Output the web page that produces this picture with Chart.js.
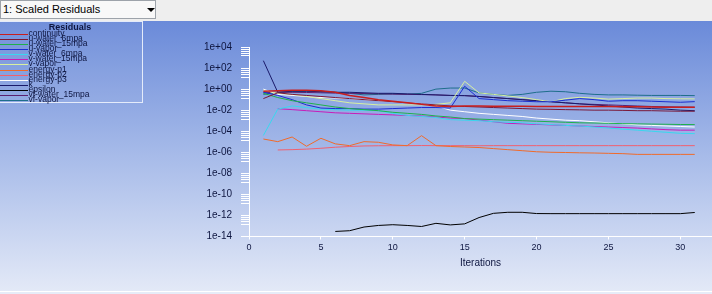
<!DOCTYPE html>
<html>
<head>
<meta charset="utf-8">
<script src="https://cdn.jsdelivr.net/npm/chart.js@4.4.0/dist/chart.umd.min.js"></script>
<style>
  html, body { margin: 0; padding: 0; }
  body { width: 712px; height: 294px; position: relative; overflow: hidden; background: #eeeeee; }
  #bg { position: absolute; left: 0; top: 21px; width: 712px; height: 270px;
        background: linear-gradient(to bottom, #6a8ad9 0%, #a7bbe9 50%, #e3e9f7 100%); }
  #foot { position: absolute; left: 0; top: 291px; width: 712px; height: 3px;
          background: #e6ecf8; border-top: 1px solid #ffffff; box-sizing: border-box; }
  #plot { position: absolute; left: 0; top: 0; }
  #combo { position: absolute; left: 0; top: 0; width: 156px; height: 19px; box-sizing: border-box;
           border: 1px solid #9da3aa; background: #f8f8f8; z-index: 2;
           font: 11px "Liberation Sans", Arial, sans-serif; color: #000; line-height: 17px; padding-left: 2px; }
  #combo i { position: absolute; left: 146px; top: 7px; width: 0; height: 0;
             border-left: 4px solid transparent; border-right: 4px solid transparent; border-top: 4px solid #000; }
</style>
</head>
<body>
<div id="bg"></div>
<div id="foot"></div>
<canvas id="plot" width="712" height="294"></canvas>
<div id="combo"><span>1: Scaled Residuals</span><i></i></div>
<script>
// residual values, stored as log10 exponents
const iterations = [1, 2, 3, 4, 5, 6, 7, 8, 9, 10, 11, 12, 13, 14, 15, 16, 17, 18, 19, 20, 21, 22, 23, 24, 25, 26, 27, 28, 29, 30, 31];
const seriesNames = ['continuity', 'u-water_6mpa', 'u-water_15mpa', 'u-vapor', 'v-water_6mpa', 'v-water_15mpa', 'v-vapor',
  'energy-p1', 'energy-p2', 'energy-p3', 'k', 'epsilon', 'vf-water_15mpa', 'vf-vapor'];
const seriesColors = ['#c81e1e', '#7a1838', '#1fb04a', '#1c2ed0', '#38d8ee', '#c81cb8', '#d8f0a0',
  '#f06a2a', '#f06070', '#ffffff', '#1a1a6a', '#000000', '#5a2070', '#1e6e8a'];

const continuity = [-0.2, -0.15, -0.1, -0.1, -0.15, -0.3, -0.6, -0.8, -1.0, -1.15, -1.3, -1.45, -1.6, -1.65, -1.6, -1.6, -1.62, -1.63, -1.63, -1.64, -1.64, -1.65, -1.65, -1.66, -1.66, -1.67, -1.68, -1.7, -1.72, -1.73, -1.73];
const uWater6 = [-0.9, -0.35, -0.5, -0.6, -0.7, -0.8, -0.9, -1.0, -1.1, -1.2, -1.3, -1.4, -1.5, -1.6, -1.65, -1.7, -1.75, -1.8, -1.85, -1.9, -1.92, -1.95, -1.97, -2.0, -2.0, -2.02, -2.05, -2.05, -2.08, -2.1, -2.1];
const uWater15 = [-0.4, -0.8, -1.1, -1.3, -1.5, -1.7, -1.85, -1.95, -2.05, -2.2, -2.3, -2.4, -2.55, -2.65, -2.8, -2.85, -2.9, -2.95, -3.0, -3.05, -3.1, -3.15, -3.2, -3.22, -3.25, -3.28, -3.3, -3.32, -3.34, -3.36, -3.37];
const uVapor = [-0.3, -0.6, -1.0, -1.5, -1.8, -1.85, -1.85, -1.9, -1.9, -1.85, -1.8, -1.75, -1.75, -1.8, 0.27, -0.9, -1.0, -1.1, -1.15, -1.2, -1.2, -1.05, -0.9, -1.0, -1.15, -1.1, -1.1, -1.15, -1.2, -1.25, -1.19];
const vWater6 = [-4.4, -1.9, -1.6, -1.75, -1.9, -1.95, -2.0, -2.0, -2.05, -2.3, -2.5, -2.6, -2.7, -2.9, -2.95, -3.0, -3.1, -3.15, -3.2, -3.3, -3.37, -3.45, -3.5, -3.6, -3.7, -3.8, -3.9, -4.0, -4.1, -4.2, -4.23];
const vWater15 = [null, -1.86, -1.95, -2.05, -2.15, -2.25, -2.3, -2.35, -2.4, -2.45, -2.5, -2.55, -2.65, -2.75, -2.8, -2.95, -3.1, -3.25, -3.3, -3.35, -3.4, -3.45, -3.5, -3.55, -3.6, -3.65, -3.7, -3.78, -3.85, -3.9, -3.9];
const vVapor = [-0.1, -0.4, -0.5, -0.7, -0.9, -1.1, -1.3, -1.4, -1.5, -1.5, -1.5, -1.5, -1.45, -1.3, 0.74, -0.36, -0.5, -0.65, -0.8, -1.0, -1.2, -0.9, -0.78, -0.85, -0.95, -0.9, -0.85, -0.85, -0.9, -0.92, -0.93];
const energyP1 = [-4.74, -4.99, -4.55, -5.43, -4.67, -5.2, -5.37, -4.99, -5.05, -5.3, -5.37, -4.42, -5.37, -5.45, -5.5, -5.55, -5.65, -5.75, -5.85, -5.95, -6.0, -6.02, -6.05, -6.07, -6.1, -6.13, -6.2, -6.2, -6.2, -6.2, -6.2];
const energyP2 = [null, -5.78, -5.75, -5.7, -5.62, -5.52, -5.45, -5.4, -5.38, -5.37, -5.37, -5.36, -5.37, -5.37, -5.37, -5.38, -5.37, -5.37, -5.37, -5.37, -5.37, -5.37, -5.37, -5.37, -5.37, -5.37, -5.37, -5.37, -5.37, -5.37, -5.37];
const energyP3 = [0.0, -0.5, -0.6, -0.7, -0.8, -0.85, -0.9, -1.0, -1.1, -1.2, -1.3, -1.4, -1.6, -2.0, -2.15, -2.3, -2.4, -2.5, -2.6, -2.75, -2.85, -2.95, -3.0, -3.1, -3.2, -3.3, -3.4, -3.45, -3.5, -3.55, -3.6];
const kRes = [2.7, -0.3, -0.2, -0.2, -0.25, -0.3, -0.3, -0.35, -0.4, -0.4, -0.45, -0.5, -0.55, -0.6, -0.62, -0.7, -0.8, -0.9, -1.0, -1.1, -1.2, -1.3, -1.4, -1.5, -1.6, -1.7, -1.8, -1.85, -1.9, -2.0, -2.05];
const epsilon = [null, null, null, null, null, -13.52, -13.45, -13.1, -12.95, -12.88, -12.95, -13.05, -12.75, -12.9, -12.8, -12.2, -11.8, -11.7, -11.7, -11.82, -11.83, -11.83, -11.83, -11.83, -11.83, -11.83, -11.83, -11.83, -11.83, -11.83, -11.72];
const vfWater15 = [-0.35, -0.3, -0.3, -0.32, -0.35, -0.38, -0.4, -0.42, -0.45, -0.48, -0.5, -0.52, -0.55, -0.6, -0.62, -0.7, -0.8, -0.9, -1.0, -1.1, -1.2, -1.3, -1.4, -1.45, -1.5, -1.55, -1.6, -1.65, -1.68, -1.7, -1.72];
const vfVapor = [-0.5, -0.3, -0.25, -0.2, -0.2, -0.3, -0.4, -0.55, -0.5, -0.45, -0.5, -0.4, 0.0, 0.1, 0.1, -0.36, -0.5, -0.6, -0.5, -0.3, -0.2, -0.25, -0.4, -0.5, -0.55, -0.55, -0.58, -0.6, -0.6, -0.6, -0.62];

const seriesLogs = [continuity, uWater6, uWater15, uVapor, vWater6, vWater15, vVapor,
  energyP1, energyP2, energyP3, kRes, epsilon, vfWater15, vfVapor];

const xTickValues = [0, 5, 10, 15, 20, 25, 30];
const yTickExponents = [4, 2, 0, -2, -4, -6, -8, -10, -12, -14];
const yTickLabels = ['1e+04', '1e+02', '1e+00', '1e-02', '1e-04', '1e-06', '1e-08', '1e-10', '1e-12', '1e-14'];

const toValue = e => (e === null ? null : Math.pow(10, e));
const textColor = '#0e1640';

// Fluent-style legend box in the upper left corner
const residualLegend = {
    id: 'residualLegend',
    afterDraw(chart) {
        const ctx = chart.ctx;
        ctx.save();
        ctx.fillStyle = 'rgba(255,255,255,0.05)';
        ctx.fillRect(-1, 21.5, 143.5, 81);
        ctx.strokeStyle = '#e4ebfa';
        ctx.lineWidth = 1;
        ctx.strokeRect(-1, 21.5, 143.5, 81);

        ctx.fillStyle = textColor;
        ctx.textAlign = 'center';
        ctx.textBaseline = 'alphabetic';
        ctx.save();
        ctx.translate(70, 30);
        ctx.scale(1, 0.95);
        ctx.font = 'bold 9px "Liberation Sans Narrow", "Liberation Sans", sans-serif';
        ctx.fillText('Residuals', 0, 0);
        ctx.restore();

        ctx.textAlign = 'left';
        chart.data.datasets.forEach((ds, i) => {
            const y = Math.round(34 + i * 5.08) + 0.5;
            ctx.strokeStyle = ds.borderColor;
            ctx.beginPath();
            ctx.moveTo(0, y);
            ctx.lineTo(28, y);
            ctx.stroke();
            ctx.save();
            ctx.translate(28.5, y + 1);
            ctx.scale(1, 1.05);
            ctx.font = '8.5px "Liberation Sans Narrow", "Liberation Sans", sans-serif';
            ctx.fillText(ds.label, 0, 0);
            ctx.restore();
        });
        ctx.restore();
    }
};

document.addEventListener('DOMContentLoaded', function() {
    const ctx = document.getElementById('plot').getContext('2d');
    new Chart(ctx, {
        type: 'line',
        data: {
            labels: iterations,
            datasets: seriesNames.map((name, i) => ({
                label: name,
                data: seriesLogs[i].map(toValue),
                borderColor: seriesColors[i],
                borderWidth: i === 0 ? 1.5 : 1,
                pointRadius: 0,
                tension: 0,
                spanGaps: false
            }))
        },
        options: {
            responsive: false,
            devicePixelRatio: 1,
            animation: false,
            layout: { padding: { top: 47, right: 0, bottom: 0, left: 0 } },
            plugins: {
                legend: { display: false },
                tooltip: { enabled: false }
            },
            scales: {
                x: {
                    type: 'linear',
                    min: 0,
                    max: 32.2,
                    afterBuildTicks: s => { s.ticks = xTickValues.map(v => ({ value: v })); },
                    afterFit: s => { s.height = 57.5; },
                    grid: { drawOnChartArea: false, color: '#ffffff', tickLength: 3 },
                    border: { color: '#ffffff', width: 1 },
                    ticks: {
                        color: textColor,
                        padding: 3,
                        maxRotation: 0,
                        autoSkip: false,
                        font: { size: 9, family: '"Liberation Sans Narrow", "Liberation Sans", sans-serif' },
                        callback: v => String(v)
                    },
                    title: {
                        display: true,
                        text: 'Iterations',
                        color: textColor,
                        font: { size: 10, family: '"Liberation Sans", Arial, sans-serif' },
                        padding: { top: 0, bottom: 25 }
                    }
                },
                y: {
                    type: 'logarithmic',
                    min: 1e-14,
                    max: 1e4,
                    afterBuildTicks: s => {
                        const ticks = [];
                        yTickExponents.forEach(e => {
                            [1, 0.6, 0.4, 0.25, 0.14].forEach(m => ticks.push({ value: m * Math.pow(10, e), major: m === 1 }));
                        });
                        s.ticks = ticks.filter(t => t.value >= 1e-14 * 0.999);
                    },
                    afterFit: s => { s.width = 249; },
                    grid: { drawOnChartArea: false, color: '#ffffff', tickLength: 8 },
                    border: { color: '#ffffff', width: 1 },
                    ticks: {
                        color: textColor,
                        padding: 9,
                        autoSkip: false,
                        font: { size: 10, family: '"Liberation Sans Narrow", "Liberation Sans", sans-serif' },
                        callback: function(value) {
                            const e = Math.round(Math.log10(value));
                            if (Math.abs(Math.log10(value) - e) > 1e-6) return '';
                            const idx = yTickExponents.indexOf(e);
                            return idx >= 0 ? yTickLabels[idx] : '';
                        }
                    }
                }
            }
        },
        plugins: [residualLegend]
    });
});
</script>
</body>
</html>
